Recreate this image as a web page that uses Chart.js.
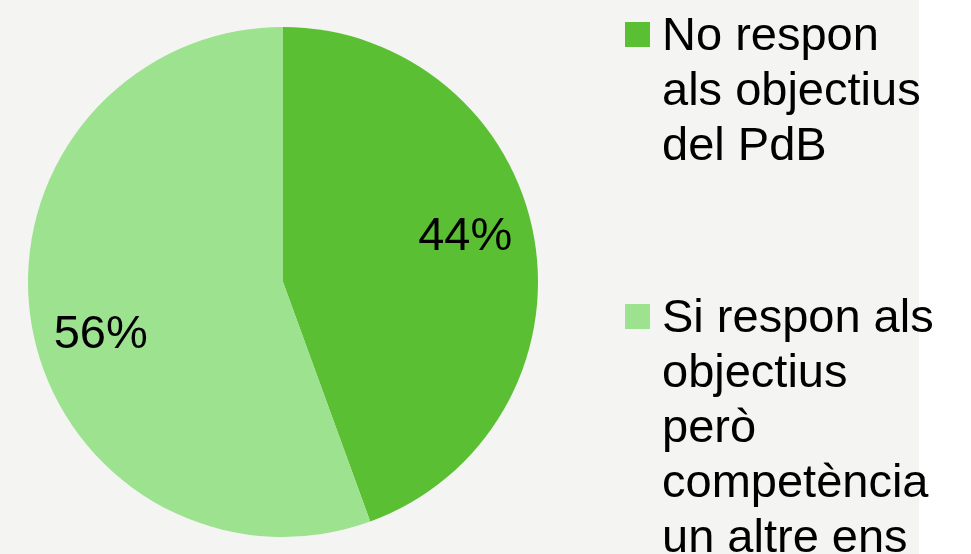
<!DOCTYPE html>
<html>
<head>
<meta charset="utf-8">
<script src="https://cdn.jsdelivr.net/npm/chart.js@4.4.1/dist/chart.umd.min.js"></script>
<style>
  html, body { margin: 0; padding: 0; background: #ffffff; }
  #wrap { position: relative; width: 971px; height: 554px; }
</style>
</head>
<body>
<div id="wrap"><canvas id="pieChart" width="971" height="554"></canvas></div>
<script>
const labels = [
  ["No respon", "als objectius", "del PdB"],
  ["Si respon als", "objectius", "però", "competència", "un altre ens"]
];
const values = [4, 5];
const colors = ["#5bbf33", "#9ce28f"];

const textFont = "47px 'Liberation Sans', Arial, sans-serif";
const panelColor = "#f4f4f2";

// gray panel behind the plot + legend, white strip on the far right
const panelBg = {
  id: "panelBg",
  beforeDraw(chart) {
    const { ctx } = chart;
    ctx.save();
    ctx.fillStyle = panelColor;
    ctx.fillRect(0, 0, 919, chart.height);
    ctx.restore();
  }
};

// percentage text inside each slice
const sliceLabels = {
  id: "sliceLabels",
  afterDatasetsDraw(chart) {
    const { ctx } = chart;
    const meta = chart.getDatasetMeta(0);
    const total = values.reduce((a, b) => a + b, 0);
    ctx.save();
    ctx.font = textFont;
    ctx.fillStyle = "#000000";
    ctx.textAlign = "center";
    ctx.textBaseline = "alphabetic";
    meta.data.forEach((arc, i) => {
      const p = arc.getProps(["x", "y", "startAngle", "endAngle", "outerRadius"], true);
      const mid = (p.startAngle + p.endAngle) / 2 - 5 * Math.PI / 180;
      const r = p.outerRadius * 0.74;
      const x = p.x + Math.cos(mid) * r;
      const y = p.y + Math.sin(mid) * r;
      const pct = Math.round(values[i] / total * 100) + "%";
      ctx.fillText(pct, x, y + 17);
    });
    ctx.restore();
  }
};

// multi-line legend on the right
const sideLegend = {
  id: "sideLegend",
  afterDraw(chart) {
    const { ctx } = chart;
    const boxX = 625, textX = 662, box = 25;
    const lineH = 55, itemGap = 117;
    let baseline = 50;
    ctx.save();
    ctx.font = textFont;
    ctx.textAlign = "left";
    ctx.textBaseline = "alphabetic";
    labels.forEach((lines, i) => {
      ctx.fillStyle = colors[i];
      ctx.fillRect(boxX, baseline - 28, box, box);
      ctx.fillStyle = "#000000";
      lines.forEach((line, j) => ctx.fillText(line, textX, baseline + j * lineH));
      baseline += lines.length * lineH + itemGap;
    });
    ctx.restore();
  }
};

new Chart(document.getElementById("pieChart"), {
  type: "pie",
  data: {
    labels: labels.map(l => l.join(" ")),
    datasets: [{
      data: values,
      backgroundColor: colors,
      borderWidth: 0
    }]
  },
  options: {
    responsive: false,
    animation: false,
    layout: { padding: { left: 28, right: 433, top: 27, bottom: 17 } },
    plugins: {
      legend: { display: false },
      tooltip: { enabled: false }
    }
  },
  plugins: [panelBg, sliceLabels, sideLegend]
});
</script>
</body>
</html>
